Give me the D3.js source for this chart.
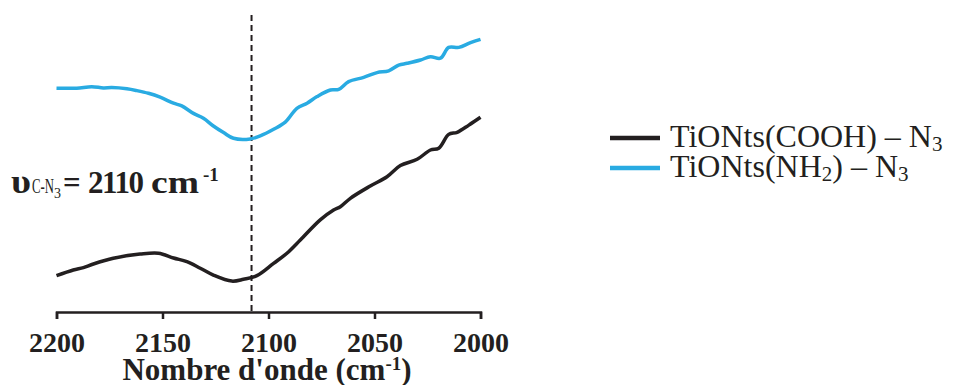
<!DOCTYPE html>
<html><head><meta charset="utf-8">
<script src="https://cdn.jsdelivr.net/npm/d3@7"></script>
<style>body{margin:0;background:#fff}svg{display:block}</style>
</head><body><svg id="c" width="959" height="385"></svg>
<script>
const wavenumbers_nh2 = [2200,2190.5,2183.4,2177.9,2173.9,2166.8,2162.1,2156.6,2151.1,2144.8,2140.9,2135.4,2130.7,2126.0,2121.2,2116.5,2108.6,2103.9,2097.6,2092.1,2086.6,2081.8,2077.1,2070.8,2066.9,2062.2,2055.1,2048.8,2043.3,2038.6,2034.6,2028.3,2023.6,2018.9,2015.0,2010.2,2004.7,2000];
const values_nh2 = [74.6,74.6,75.1,74.7,74.8,74.4,73.8,72.9,71.6,69.6,68.7,66.2,64.6,62.0,59.8,57.9,57.7,58.7,60.9,63.3,67.9,69.6,71.8,74.0,74.2,76.8,78.2,79.8,80.4,82.3,82.9,84.0,85.1,84.6,88.2,88.2,89.8,90.9];
const wavenumbers_cooh = [2200,2192.1,2187.3,2182.6,2173.2,2160.6,2151.9,2144.8,2138.5,2132.2,2126.0,2117.3,2111.8,2105.5,2097.6,2091.3,2085.0,2075.6,2069.3,2066.1,2061.4,2052.0,2044.1,2037.8,2029.9,2023.6,2019.7,2015.0,2011.0,2005.5,2000];
const values_cooh = [12.1,14.0,14.8,16.0,17.9,19.3,19.6,18.0,16.8,14.6,12.3,10.3,10.9,12.1,16.2,19.6,24.0,30.7,34.0,35.1,37.9,42.0,45.1,48.8,50.9,54.0,54.6,59.2,59.9,62.3,64.9];
const xTicks = [2200,2150,2100,2050,2000];
const peakPosition = 2108;
const seriesNames = ["TiONts(COOH) – N", "TiONts(NH"];
const colors = ["#231f20", "#29abe2"];

const svg = d3.select("#c");
const x = d3.scaleLinear().domain([2200,2000]).range([56.5,480.5]);
const y = d3.scaleLinear().domain([0,100]).range([312,12]);
const serif = "'Liberation Serif','Times New Roman',serif";

const line = d3.line().x(d=>x(d[0])).y(d=>y(d[1])).curve(d3.curveCatmullRom.alpha(0.5));

// dashed reference line
svg.append("line").attr("x1",x(peakPosition)).attr("x2",x(peakPosition))
  .attr("y1",15).attr("y2",312).attr("stroke","#231f20").attr("stroke-width",2)
  .attr("stroke-dasharray","6,4");

svg.append("path").datum(d3.zip(wavenumbers_cooh, values_cooh)).attr("d",line)
  .attr("fill","none").attr("stroke",colors[0]).attr("stroke-width",3.5).attr("stroke-linejoin","round");
svg.append("path").datum(d3.zip(wavenumbers_nh2, values_nh2)).attr("d",line)
  .attr("fill","none").attr("stroke",colors[1]).attr("stroke-width",3.5).attr("stroke-linejoin","round");

// x axis
const ax = svg.append("g").attr("transform","translate(0,312)")
  .call(d3.axisBottom(x).tickValues(xTicks).tickSize(7).tickSizeOuter(7).tickFormat(d3.format("d")));
ax.select(".domain").attr("stroke","#231f20").attr("stroke-width",2.5);
ax.selectAll(".tick line").attr("stroke","#231f20").attr("stroke-width",2.5);
ax.selectAll(".tick text").attr("font-family",serif).attr("font-weight","bold")
  .attr("font-size",28).attr("fill","#231f20").attr("y",null).attr("dy",null)
  .attr("transform","translate(0,40)");

// axis title
const t = svg.append("text").attr("x",267).attr("y",380).attr("text-anchor","middle")
  .attr("font-family",serif).attr("font-weight","bold").attr("font-size",31).attr("fill","#231f20");
t.append("tspan").text("Nombre d'onde (cm");
t.append("tspan").attr("font-size",19).attr("dy",-10).text("-1");
t.append("tspan").attr("dy",10).text(")");

// annotation
const a = svg.append("text").attr("y",193)
  .attr("font-family",serif).attr("font-weight","bold").attr("fill","#231f20").attr("font-size",31);
a.append("tspan").attr("x",11).attr("font-size",34).attr("textLength",20).attr("lengthAdjust","spacingAndGlyphs").text("υ");
a.append("tspan").attr("x",32).attr("font-size",21).attr("font-weight","normal")
  .attr("textLength",22).attr("lengthAdjust","spacingAndGlyphs").text("C-N");
a.append("tspan").attr("x",54).attr("font-size",14).attr("font-weight","normal").attr("dy",5).text("3");
a.append("tspan").attr("x",63).attr("dy",-5).text("=");
a.append("tspan").attr("x",88).attr("textLength",56).attr("lengthAdjust","spacing").text("2110");
a.append("tspan").attr("x",151).attr("textLength",48).attr("lengthAdjust","spacingAndGlyphs").text("cm");
a.append("tspan").attr("x",203).attr("font-size",19).attr("dy",-12).text("-1");

// legend
const lg = svg.append("g");
[0,1].forEach(i=>{
  const yy = 138 + i*30;
  lg.append("line").attr("x1",610).attr("x2",660).attr("y1",yy).attr("y2",yy)
    .attr("stroke",colors[i]).attr("stroke-width",4.5);
  const tx = lg.append("text").attr("x",670).attr("y",yy+9).attr("font-family",serif)
    .attr("font-size",32).attr("fill","#231f20");
  if(i===0){
    tx.append("tspan").text(seriesNames[0]);
    tx.append("tspan").attr("font-size",21).attr("dy",4).text("3");
  } else {
    tx.append("tspan").text(seriesNames[1]);
    tx.append("tspan").attr("font-size",21).attr("dy",4).text("2");
    tx.append("tspan").attr("dy",-4).text(") – N");
    tx.append("tspan").attr("font-size",21).attr("dy",4).text("3");
  }
});
</script></body></html>
